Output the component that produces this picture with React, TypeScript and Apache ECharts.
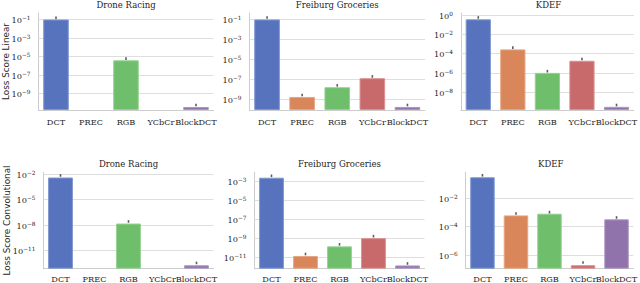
import { useEffect, useRef } from 'react';
import * as echarts from 'echarts';

const categories = ['DCT', 'PREC', 'RGB', 'YCbCr', 'BlockDCT'];
const panelTitles = ['Drone Racing', 'Freiburg Groceries', 'KDEF'];
const rowLabels = ['Loss Score Linear', 'Loss Score Convolutional'];
const palette = ['#5873be', '#d9865b', '#6ebe6c', '#c86a6b', '#9073ab'];
const edgePalette = ['#7e97d0', '#e7a582', '#95d292', '#da9192', '#ac97c4'];

// Loss Score Linear
const droneLinear = [0.09, null, 3.6e-6, null, 3.4e-11];
const freiburgLinear = [0.09, 1.6e-9, 1.5e-8, 1.2e-7, 1.6e-10];
const kdefLinear = [0.35, 2.6e-4, 9.3e-7, 1.7e-5, 2.7e-10];
// error bar tops
const droneLinearErr = [0.14, null, 5.5e-6, null, 5.5e-11];
const freiburgLinearErr = [0.14, 2.5e-9, 2.3e-8, 1.8e-7, 2.5e-10];
const kdefLinearErr = [0.55, 4e-4, 1.4e-6, 2.6e-5, 4.2e-10];

// Loss Score Convolutional
const droneConv = [3.4e-3, null, 1.3e-8, null, 1.6e-13];
const freiburgConv = [2.4e-3, 1.3e-11, 1.35e-10, 1e-9, 1.3e-12];
const kdefConv = [0.29, 5.9e-4, 7.8e-4, 1.8e-7, 3.1e-4];
const droneConvErr = [6e-3, null, 2.3e-8, null, 3e-13];
const freiburgConvErr = [3.8e-3, 2.1e-11, 2.2e-10, 1.6e-9, 2.1e-12];
const kdefConvErr = [0.4, 8e-4, 1e-3, 2.8e-7, 4.2e-4];

// axis ranges (min, max)
const droneLinearRange = [1.6e-11, 0.45];
const freiburgLinearRange = [7.9e-11, 0.4];
const kdefLinearRange = [1.26e-10, 1.6];
const droneConvRange = [6.3e-14, 0.014];
const freiburgConvRange = [5.9e-13, 8.9e-3];
const kdefConvRange = [1.02e-7, 0.65];

// labelled tick exponents
const droneLinearTicks = [-1, -3, -5, -7, -9];
const freiburgLinearTicks = [-1, -3, -5, -7, -9];
const kdefLinearTicks = [0, -2, -4, -6, -8];
const droneConvTicks = [-2, -5, -8, -11];
const freiburgConvTicks = [-3, -5, -7, -9, -11];
const kdefConvTicks = [-2, -4, -6];

const panels = [
  { values: droneLinear, err: droneLinearErr, range: droneLinearRange, ticks: droneLinearTicks },
  { values: freiburgLinear, err: freiburgLinearErr, range: freiburgLinearRange, ticks: freiburgLinearTicks },
  { values: kdefLinear, err: kdefLinearErr, range: kdefLinearRange, ticks: kdefLinearTicks },
  { values: droneConv, err: droneConvErr, range: droneConvRange, ticks: droneConvTicks },
  { values: freiburgConv, err: freiburgConvErr, range: freiburgConvRange, ticks: freiburgConvTicks },
  { values: kdefConv, err: kdefConvErr, range: kdefConvRange, ticks: kdefConvTicks },
];

const gridBoxes = [
  { left: 38.5, top: 13, width: 175, height: 97 },
  { left: 249.5, top: 13, width: 175.5, height: 97 },
  { left: 461, top: 13, width: 175, height: 97 },
  { left: 43.5, top: 172.3, width: 170, height: 96.4 },
  { left: 254.5, top: 172.3, width: 170, height: 96.4 },
  { left: 465.7, top: 172.3, width: 170, height: 96.4 },
];

const TEXT = '#262626';
const SERIF = 'DejaVu Serif';

export default function App() {
  const ref = useRef<HTMLDivElement>(null);
  useEffect(() => {
    if (!ref.current) return;
    const chart = echarts.init(ref.current, null, { renderer: 'svg' });
    const grid = gridBoxes.map((g) => ({ ...g, containLabel: false }));
    const title = panels.map((_, i) => {
      const g = gridBoxes[i];
      return {
        text: panelTitles[i % 3],
        left: g.left + g.width / 2,
        top: i < 3 ? 0.5 : 159.5,
        textAlign: 'center',
        padding: 0,
        textStyle: { fontFamily: SERIF, fontSize: 8.5, fontWeight: 'normal', color: TEXT },
      };
    });
    const xAxis = panels.map((_, i) => ({
      type: 'category',
      gridIndex: i,
      data: categories,
      axisLine: { show: true, lineStyle: { color: '#cccccc', width: 1 } },
      axisTick: { show: false },
      axisLabel: {
        interval: 0,
        hideOverlap: false,
        margin: i < 3 ? 8 : 6,
        fontFamily: SERIF,
        fontSize: 8.2,
        color: TEXT,
      },
    }));
    const yAxis = panels.map((p, i) => ({
      type: 'log',
      gridIndex: i,
      min: p.range[0],
      max: p.range[1],
      startValue: p.range[0],
      axisLine: { show: true, lineStyle: { color: '#cccccc', width: 1 } },
      axisTick: { show: false },
      splitLine: { show: false },
      axisLabel: { show: false },
      name: i % 3 === 0 ? rowLabels[i < 3 ? 0 : 1] : '',
      nameLocation: 'middle',
      nameGap: i < 3 ? 28.5 : 32,
      nameTextStyle: { fontFamily: 'DejaVu Sans', fontSize: 8.8, color: TEXT },
    }));
    const rich = {
      b: { fontFamily: SERIF, fontSize: 8.2, fill: TEXT, color: TEXT, lineHeight: 9, verticalAlign: 'middle' },
      s: { fontFamily: SERIF, fontSize: 5.8, fill: TEXT, color: TEXT, lineHeight: 6, verticalAlign: 'top' },
    };
    const series: any[] = [];
    panels.forEach((p, i) => {
      // grid lines + tick labels at the labelled decades
      series.push({
        type: 'custom',
        xAxisIndex: i,
        yAxisIndex: i,
        silent: true,
        clip: false,
        z: 1,
        data: p.ticks.map((t) => [0, Math.pow(10, t), t]),
        renderItem: (params: any, api: any) => {
          const y = Math.round(api.coord([0, api.value(1)])[1]) + 0.5;
          const cs = params.coordSys;
          const t = api.value(2);
          const exp = t < 0 ? '\u2212' + -t : String(t);
          return {
            type: 'group',
            children: [
              {
                type: 'line',
                shape: { x1: cs.x, y1: y, x2: cs.x + cs.width, y2: y },
                style: { stroke: '#dedede', lineWidth: 1 },
              },
              {
                type: 'text',
                x: cs.x - 8,
                y: y,
                style: {
                  text: `{b|10}{s|${exp}}`,
                  rich,
                  align: 'right',
                  verticalAlign: 'middle',
                  fill: TEXT,
                },
              },
            ],
          };
        },
      });
      series.push({
        type: 'bar',
        xAxisIndex: i,
        yAxisIndex: i,
        barCategoryGap: '27%',
        z: 2,
        data: p.values.map((v, k) =>
          v == null
            ? '-'
            : {
                value: v,
                itemStyle: { color: palette[k], borderColor: edgePalette[k], borderWidth: 1 },
              }
        ),
      });
      series.push({
        type: 'scatter',
        xAxisIndex: i,
        yAxisIndex: i,
        symbol: 'rect',
        symbolSize: [1.6, 2.6],
        z: 3,
        itemStyle: { color: '#333333' },
        data: p.err.map((v) => (v == null ? '-' : v)),
      });
    });
    chart.setOption({
      animation: false,
      backgroundColor: '#ffffff',
      title,
      grid,
      xAxis,
      yAxis,
      series,
    });
    return () => chart.dispose();
  }, []);
  return (
    <div
      ref={ref}
      style={{ position: 'fixed', left: 0, top: 0, width: 640, height: 283 }}
    />
  );
}
